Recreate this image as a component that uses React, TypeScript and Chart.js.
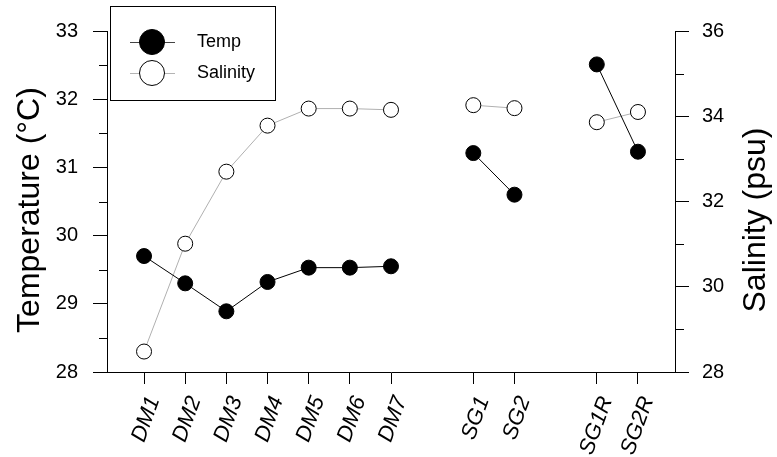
import React, { useEffect, useRef } from 'react';
import { Chart, registerables } from 'chart.js';

Chart.register(...registerables);

const categories = ['DM1', 'DM2', 'DM3', 'DM4', 'DM5', 'DM6', 'DM7', '', 'SG1', 'SG2', '', 'SG1R', 'SG2R'];
const temperature = [29.70, 29.30, 28.89, 29.32, 29.53, 29.53, 29.55, null, 31.21, 30.60, null, 32.51, 31.23];
const salinity = [28.48, 31.01, 32.70, 33.78, 34.18, 34.18, 34.15, null, 34.26, 34.19, null, 33.86, 34.10];
const seriesNames = ['Temp', 'Salinity'];
const leftTitle = 'Temperature (\u00B0C)';
const rightTitle = 'Salinity (psu)';

const FONT = "'Liberation Sans', Arial, sans-serif";

export default function App() {
  const ref = useRef<HTMLCanvasElement>(null);

  useEffect(() => {
    if (!ref.current) return;
    const toPts = (arr: (number | null)[]) => arr.map((v, i) => ({ x: i, y: v }));

    const extras = {
      id: 'extras',
      afterDraw(chart: any) {
        const ctx = chart.ctx;
        const area = chart.chartArea;
        const yl = chart.scales.y;
        const yr = chart.scales.y1;
        ctx.save();
        ctx.strokeStyle = '#000';
        ctx.lineWidth = 1;
        // minor ticks
        for (let v = 28.5; v < 33; v += 1) {
          const p = Math.round(yl.getPixelForValue(v)) + 0.5;
          ctx.beginPath();
          ctx.moveTo(area.left - 8, p);
          ctx.lineTo(area.left, p);
          ctx.stroke();
        }
        for (let v = 29; v < 36; v += 2) {
          const p = Math.round(yr.getPixelForValue(v)) + 0.5;
          ctx.beginPath();
          ctx.moveTo(area.right, p);
          ctx.lineTo(area.right + 9, p);
          ctx.stroke();
        }
        // axis titles
        ctx.fillStyle = '#000';
        ctx.font = `32px ${FONT}`;
        ctx.textAlign = 'center';
        ctx.textBaseline = 'alphabetic';
        ctx.save();
        ctx.translate(39, 210);
        ctx.rotate(-Math.PI / 2);
        ctx.fillText(leftTitle, 0, 0);
        ctx.restore();
        ctx.save();
        ctx.translate(765, 220);
        ctx.rotate(-Math.PI / 2);
        ctx.fillText(rightTitle, 0, 0);
        ctx.restore();

        // legend
        ctx.fillStyle = '#fff';
        ctx.fillRect(110, 6, 165, 94);
        ctx.strokeStyle = '#000';
        ctx.strokeRect(110.5, 6.5, 165, 94);
        const rows = [42, 73];
        rows.forEach((yy, k) => {
          ctx.beginPath();
          ctx.strokeStyle = k === 0 ? '#444' : '#b4b4b4';
          ctx.moveTo(130, yy + 0.5);
          ctx.lineTo(175, yy + 0.5);
          ctx.stroke();
          ctx.beginPath();
          ctx.arc(152, yy, 12.5, 0, Math.PI * 2);
          ctx.fillStyle = k === 0 ? '#000' : '#fff';
          ctx.fill();
          ctx.strokeStyle = '#000';
          ctx.stroke();
          ctx.fillStyle = '#000';
          ctx.font = `18px ${FONT}`;
          ctx.textAlign = 'left';
          ctx.textBaseline = 'middle';
          ctx.fillText(seriesNames[k], 197, yy);
        });
        ctx.restore();
      },
    };

    const chart = new Chart(ref.current, {
      type: 'line',
      data: {
        datasets: [
          {
            label: seriesNames[0],
            data: toPts(temperature),
            yAxisID: 'y',
            borderColor: '#000',
            borderWidth: 1,
            pointRadius: 7.5,
            pointBackgroundColor: '#000',
            pointBorderColor: '#000',
            pointBorderWidth: 1,
            spanGaps: false,
          },
          {
            label: seriesNames[1],
            data: toPts(salinity),
            yAxisID: 'y1',
            borderColor: '#b0b0b0',
            borderWidth: 1,
            pointRadius: 7.5,
            pointBackgroundColor: '#fff',
            pointBorderColor: '#000',
            pointBorderWidth: 1,
            spanGaps: false,
          },
        ],
      },
      options: {
        responsive: false,
        animation: false,
        layout: { padding: { top: 31, left: 0, right: 0, bottom: 0 } },
        plugins: { legend: { display: false }, tooltip: { enabled: false } },
        scales: {
          x: {
            type: 'linear',
            min: -0.9,
            max: 12.9,
            afterBuildTicks: (scale: any) => {
              scale.ticks = categories
                .map((c, i) => (c ? { value: i } : null))
                .filter(Boolean);
            },
            afterFit: (scale: any) => {
              scale.height = 85;
            },
            ticks: {
              autoSkip: false,
              minRotation: 70,
              maxRotation: 70,
              padding: 9,
              labelOffset: 10,
              color: '#000',
              font: { family: FONT, size: 22, style: 'italic' },
              callback: (v: any) => categories[v] ?? '',
            },
            grid: { display: true, drawOnChartArea: false, drawTicks: true, tickLength: 12, color: '#000', lineWidth: 1 },
            border: { display: true, color: '#000', width: 1 },
          },
          y: {
            type: 'linear',
            position: 'left',
            min: 28,
            max: 33,
            afterFit: (scale: any) => {
              scale.width = 107;
            },
            ticks: { stepSize: 1, padding: 15, color: '#000', font: { family: FONT, size: 20 } },
            grid: { display: true, drawOnChartArea: false, drawTicks: true, tickLength: 14, color: '#000', lineWidth: 1 },
            border: { display: true, color: '#000', width: 1 },
          },
          y1: {
            type: 'linear',
            position: 'right',
            min: 28,
            max: 36,
            afterFit: (scale: any) => {
              scale.width = 102;
            },
            ticks: { stepSize: 2, padding: 13, color: '#000', font: { family: FONT, size: 20 } },
            grid: { display: true, drawOnChartArea: false, drawTicks: true, tickLength: 14, color: '#000', lineWidth: 1 },
            border: { display: true, color: '#000', width: 1 },
          },
        },
      },
      plugins: [extras],
    });
    return () => chart.destroy();
  }, []);

  return (
    <div style={{ position: 'absolute', left: 0, top: 0, width: 777, height: 457, background: '#fff' }}>
      <canvas ref={ref} width={777} height={457} style={{ display: 'block' }} />
    </div>
  );
}
